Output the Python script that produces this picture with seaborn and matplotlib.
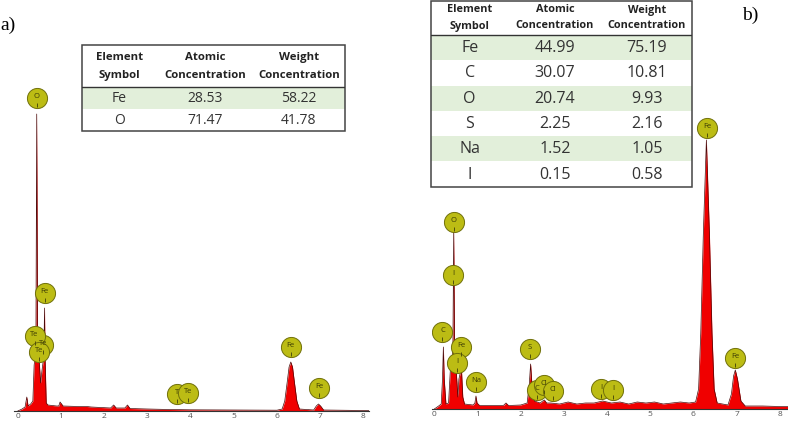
import numpy as np
import pandas as pd
import matplotlib
matplotlib.use("Agg")
import matplotlib.pyplot as plt
import matplotlib.transforms as mtransforms
from matplotlib.patches import Rectangle
import seaborn as sns

W, H = 788, 421

# ---- spectrum a (energy keV, counts) ----
energy_a = [0.00, 0.10, 0.17, 0.21, 0.24, 0.30, 0.35, 0.38, 0.42, 0.44, 0.46, 0.50, 0.53, 0.56,
            0.59, 0.605, 0.62, 0.635, 0.66, 0.70, 0.90, 0.95, 0.98, 1.05, 1.40, 1.60, 1.70, 2.15,
            2.22, 2.28, 2.48, 2.54, 2.60, 3.00, 3.50, 4.00, 5.00, 6.00, 6.12, 6.18, 6.24, 6.28,
            6.32, 6.36, 6.40, 6.46, 6.52, 6.85, 6.91, 6.96, 7.01, 7.08, 8.00, 8.13]
counts_a = [0, 2, 4, 14, 5, 7, 10, 46, 60, 297, 60, 48, 28, 40,
            50, 55, 103, 50, 8, 6, 5, 5, 9, 5, 4.5, 4.5, 4, 3,
            6, 3, 3, 6, 2.5, 2, 1.5, 1.2, 1, 0.8, 2, 10, 30, 44,
            49, 44, 30, 10, 2, 1, 5, 7, 5, 1, 0.5, 0.5]

# ---- spectrum b ----
energy_b = [0.00, 0.10, 0.16, 0.19, 0.21, 0.23, 0.27, 0.33, 0.37, 0.40, 0.43, 0.45, 0.47, 0.50,
            0.52, 0.545, 0.57, 0.60, 0.63, 0.66, 0.70, 0.90, 0.94, 0.965, 0.99, 1.05, 1.30, 1.60,
            1.66, 1.72, 2.00, 2.15, 2.20, 2.23, 2.26, 2.32, 2.45, 2.51, 2.55, 2.60, 2.70, 2.90,
            3.10, 3.30, 3.50, 3.70, 3.90, 4.10, 4.30, 4.50, 4.70, 4.90, 5.10, 5.30, 5.50, 5.70,
            5.90, 6.05, 6.12, 6.17, 6.23, 6.30, 6.37, 6.43, 6.48, 6.55, 6.80, 6.88, 6.93, 6.97,
            7.02, 7.10, 7.20, 7.60, 8.00, 8.20]
counts_b = [0, 3, 5, 30, 62, 30, 5, 6, 38, 42, 60, 179, 55, 42,
            30, 12, 30, 36, 39, 12, 5, 4, 6, 13, 6, 3.5, 3.5, 3.5,
            6, 3.5, 4, 6, 25, 45, 25, 8, 6, 8, 9, 6, 6, 5,
            7, 5, 6, 6, 8, 6, 7, 5, 7, 6, 7, 5, 6, 7,
            6, 7, 20, 76, 176, 269, 176, 76, 20, 6, 4, 15, 33, 39,
            30, 8, 3, 3, 2.5, 2.5]

# ---- peak labels (element, energy, label height) ----
marks_a_el = ["Te", "Fe", "Te", "Te", "O", "T", "Te", "Fe", "Fe"]
marks_a_x = [0.59, 0.62, 0.39, 0.49, 0.44, 3.68, 3.95, 6.32, 6.97]
marks_a_y = [66, 118, 75, 59, 313, 17, 17.7, 64, 22.7]

marks_b_el = ["Fe", "O", "I", "C", "Fe", "I", "Na", "S", "C", "Cl", "Cl", "I", "I", "Fe"]
marks_b_x = [6.32, 0.455, 0.43, 0.19, 0.63, 0.53, 0.97, 2.22, 2.37, 2.54, 2.74, 3.86, 4.14, 6.97]
marks_b_y = [281, 187, 134, 77, 62, 46, 27, 60, 19, 24, 18, 20, 19, 51]

# ---- tables ----
table_header = [("Element", "Symbol"), ("Atomic", "Concentration"), ("Weight", "Concentration")]
elements_a = ["Fe", "O"]
atomic_a = ["28.53", "71.47"]
weight_a = ["58.22", "41.78"]
elements_b = ["Fe", "C", "O", "S", "Na", "I"]
atomic_b = ["44.99", "30.07", "20.74", "2.25", "1.52", "0.15"]
weight_b = ["75.19", "10.81", "9.93", "2.16", "1.05", "0.58"]
ticks = [0, 1, 2, 3, 4, 5, 6, 7, 8]

sns.set_theme(style="white")
plt.rcParams["font.family"] = ["Open Sans", "DejaVu Sans"]

FILL = "#f00000"
CIRCLE = "#bcbc14"
CIRCLE_EDGE = "#70700a"


def px_rect(l, t, r, b):
    return [l / W, 1 - b / H, (r - l) / W, (b - t) / H]


def draw_spectrum(fig, rect, energy, counts, xlim, ylim, el, mx, my):
    ax = fig.add_axes(rect)
    df = pd.DataFrame({"energy": energy, "counts": counts})
    ax.fill_between(df["energy"], 0, df["counts"], color=FILL, lw=0, zorder=2)
    sns.lineplot(data=df, x="energy", y="counts", ax=ax, color="#4a0808", lw=0.5,
                 sort=False, zorder=3)
    ax.set_xlim(*xlim)
    ax.set_ylim(*ylim)
    ax.set_xticks(ticks)
    ax.set_xticklabels([str(t) for t in ticks])
    ax.set_yticks([])
    ax.tick_params(axis="x", length=0, labelsize=6, labelcolor="#555555", pad=1.5)
    sns.despine(ax=ax, left=True, top=True, right=True)
    ax.spines["bottom"].set_color("#333333")
    ax.spines["bottom"].set_linewidth(0.8)
    ax.patch.set_alpha(0)

    marks = pd.DataFrame({"el": el, "x": mx, "y": my})
    sns.scatterplot(data=marks, x="x", y="y", ax=ax, s=210, color=CIRCLE,
                    edgecolor=CIRCLE_EDGE, linewidth=0.7, zorder=5, legend=False)
    tick_tr = mtransforms.offset_copy(ax.transData, fig=fig, x=0, y=-6.5, units="dots")
    ax.scatter(marks["x"], marks["y"], marker="|", s=12, color="#50500a",
               linewidths=0.7, transform=tick_tr, zorder=6)
    txt_tr = mtransforms.offset_copy(ax.transData, fig=fig, x=0, y=1.5, units="dots")
    for _, r in marks.iterrows():
        ax.text(r["x"], r["y"], r["el"], transform=txt_tr, ha="center", va="center",
                fontsize=5.5, color="#3c3c05", zorder=7, clip_on=False)
    ax.set_xlabel("")
    ax.set_ylabel("")
    return ax


def draw_table(fig, box, header_line, header_y, cols_x, cols, hfs, bfs, green_rows):
    l, t, r, b = box
    ax = fig.add_axes(px_rect(l, t, r, b))
    ax.set_xlim(0, r - l)
    ax.set_ylim(b - t, 0)
    ax.axis("off")
    n = len(cols[0])
    edges = [header_line] + [header_line + (b - t - header_line) * (i + 1) / n for i in range(n)]
    for i in range(n):
        if i in green_rows:
            ax.add_patch(Rectangle((0, edges[i]), r - l, edges[i + 1] - edges[i],
                                   facecolor="#e2efda", edgecolor="none"))
    for cx, (h1, h2) in zip(cols_x, table_header):
        ax.text(cx * (r - l), header_y[0], h1, ha="center", va="center",
                fontsize=hfs, fontweight="bold", color="#222222")
        ax.text(cx * (r - l), header_y[1], h2, ha="center", va="center",
                fontsize=hfs, fontweight="bold", color="#222222")
    for cx, col in zip(cols_x, cols):
        for i, v in enumerate(col):
            ax.text(cx * (r - l), (edges[i] + edges[i + 1]) / 2 + 0.5, v, ha="center",
                    va="center", fontsize=bfs, color="#333333")
    ax.plot([0, r - l], [header_line, header_line], color="#333333", lw=1.0)
    ax.add_patch(Rectangle((0, 0), r - l, b - t, facecolor="none", edgecolor="#444444",
                           lw=1.1, clip_on=False))
    return ax


fig = plt.figure(figsize=(W / 100, H / 100), dpi=100)

draw_spectrum(fig, px_rect(14, 60, 369, 411), energy_a, counts_a,
              (-0.086, 8.13), (0, 351), marks_a_el, marks_a_x, marks_a_y)
draw_spectrum(fig, px_rect(431.7, 60, 788, 409), energy_b, counts_b,
              (-0.06, 8.19), (0, 349), marks_b_el, marks_b_x, marks_b_y)

draw_table(fig, (81.7, 45, 345, 130.7), 41.7, (12.3, 30.7),
           (0.143, 0.468, 0.825), [elements_a, atomic_a, weight_a], 8.2, 10, [0])
draw_table(fig, (430.7, 0.5, 692.3, 186.7), 34.5, (9.5, 25.5),
           (0.149, 0.475, 0.827), [elements_b, atomic_b, weight_b], 7.8, 11.5, [0, 2, 4])

fig.text(0 / W, 1 - 25 / H, "a)", ha="left", va="center", fontsize=14,
         family="Liberation Serif", color="black")
fig.text(741.7 / W, 1 - 15 / H, "b)", ha="left", va="center", fontsize=14,
         family="Liberation Serif", color="black")

fig.savefig("out.png", dpi=100)
